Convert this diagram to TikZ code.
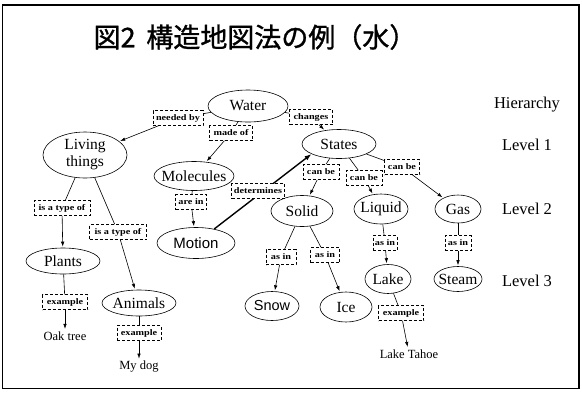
\documentclass[tikz,border=0pt]{standalone}
\usepackage{fontspec}
\setmainfont{Liberation Serif}
\newfontfamily\cjkfont[FakeBold=1.2]{Noto Sans CJK JP}
\newfontfamily\lblfont[FakeStretch=1.2]{Liberation Serif}
\newfontfamily\nsans{Liberation Sans}
\usetikzlibrary{shapes.geometric,arrows.meta}
\newcommand\enode[6][]{%
  \node[ell,minimum width=#5,minimum height=#6] (#2) at (#3) {};
  \node[ntext,#1] (#2t) at (#2) {#4};}
\begin{document}
\begin{tikzpicture}[x=1pt,y=-1pt,
  ell/.style={draw, ellipse, inner sep=0pt, line width=0.6pt},
  ntext/.style={font=\fontsize{15.5}{17}\selectfont, inner sep=0pt, align=center},
  lbl/.style={draw, densely dashed, line width=0.5pt, inner sep=1.5pt, fill=white,
              font=\lblfont\bfseries\fontsize{8.5}{9}\selectfont, minimum height=15},
  con/.style={line width=0.6pt},
  arr/.style={con, -{Latex[length=5pt,width=3.5pt]}, shorten >=1pt},
  lev/.style={font=\fontsize{16.5}{18}\selectfont},
  leaf/.style={font=\fontsize{12.5}{14}\selectfont, inner sep=1.5pt}]
\useasboundingbox (0,0) rectangle (582,392);
\draw[line width=1.5pt] (2.5,5) rectangle (579,388.5);

% title
\node[font=\cjkfont\fontsize{27}{29}\selectfont] (title) at (255,37)
  {図2\hspace{0.4em}構造地図法の例（水）};

% hierarchy labels
\node[lev] (hier) at (527,105) {Hierarchy};
\node[lev] (lev1) at (527,145) {Level 1};
\node[lev] (lev2) at (527,209) {Level 2};
\node[lev] (lev3) at (527,281) {Level 3};

% concept nodes
\enode{water}{248,106}{Water}{80}{32}
\enode{living}{85,155}{Living\\things}{84}{46}
\enode{molec}{194,176}{Molecules}{80}{29}
\enode[font=\nsans\fontsize{15}{15}\selectfont]{motion}{196,243}{Motion}{78}{31}
\enode{states}{339,144}{States}{74}{29}
\enode{solid}{302,211}{Solid}{62}{31}
\enode{liquid}{381,209}{Liquid}{54}{30}
\enode{gas}{458,209}{Gas}{46}{28}
\enode{plants}{63,261}{Plants}{74}{26}
\enode{animals}{139,303}{Animals}{74}{26}
\enode[font=\nsans\fontsize{14.5}{15}\selectfont]{snow}{272,306}{Snow}{54}{29}
\enode{ice}{346,307}{Ice}{52}{30}
\enode{lake}{388,279}{Lake}{46}{29}
\enode{steam}{458,279}{Steam}{48}{25}

% leaf texts
\node[leaf] (oak) at (65,336) {Oak tree};
\node[leaf] (dog) at (139,367) {My dog};
\node[leaf] (tahoe) at (409,354) {Lake Tahoe};

% connectors
\draw[line width=1.4pt, -{Latex[length=7pt,width=5pt]}] (motion) -- (states.200);

% link labels
\node[lbl, minimum width=50] (needed) at (178,118) {needed by};
\node[lbl, minimum width=43] (madeof) at (231,133) {made of};
\node[lbl, minimum width=43] (changes) at (311,117) {changes};
\node[lbl, minimum width=53] (determ) at (258,191) {determines};
\node[lbl, minimum width=31] (arein) at (191,202) {are in};
\node[lbl, minimum width=36] (canbeA) at (321,172) {can be};
\node[lbl, minimum width=36] (canbeB) at (364,178) {can be};
\node[lbl, minimum width=35] (canbeC) at (402,167) {can be};
\node[lbl, minimum width=56] (typeA) at (62,208) {is a type of};
\node[lbl, minimum width=57] (typeB) at (118,232) {is a type of};
\node[lbl, minimum width=30] (asinA) at (281,257) {as in};
\node[lbl, minimum width=29] (asinB) at (325,255) {as in};
\node[lbl, minimum width=24] (asinC) at (385,243) {as in};
\node[lbl, minimum width=26] (asinD) at (458,243) {as in};
\node[lbl, minimum width=45] (exA) at (65,302) {example};
\node[lbl, minimum width=44] (exB) at (139,333) {example};
\node[lbl, minimum width=45] (exC) at (401,313) {example};

\draw[con] (water) -- (needed);   \draw[arr] (needed) -- (living);
\draw[con] (water) -- (madeof);   \draw[arr] (madeof) -- (molec);
\draw[con] (water) -- (changes);  \draw[arr] (changes) -- (states);
\draw[con] (molec) -- (arein);    \draw[arr] (arein) -- (motion);
\draw[con] (states) -- (canbeA);  \draw[arr] (canbeA) -- (solid);
\draw[con] (states) -- (canbeB);  \draw[arr] (canbeB) -- (liquid);
\draw[con] (states) -- (canbeC);  \draw[arr] (canbeC) -- (gas);
\draw[con] (living) -- (typeA);   \draw[arr] (typeA) -- (plants);
\draw[con] (living) -- (typeB);   \draw[arr] (typeB) -- (animals);
\draw[con] (solid) -- (asinA);    \draw[arr] (asinA) -- (snow);
\draw[con] (solid) -- (asinB);    \draw[arr] (asinB) -- (ice);
\draw[con] (liquid) -- (asinC);   \draw[arr] (asinC) -- (lake);
\draw[con] (gas) -- (asinD);      \draw[arr] (asinD) -- (steam);
\draw[con] (plants) -- (exA);     \draw[arr] (exA) -- (oak);
\draw[con] (animals) -- (exB);    \draw[arr] (exB) -- (dog);
\draw[con] (lake) -- (exC);       \draw[arr] (exC) -- (tahoe);
\end{tikzpicture}
\end{document}
